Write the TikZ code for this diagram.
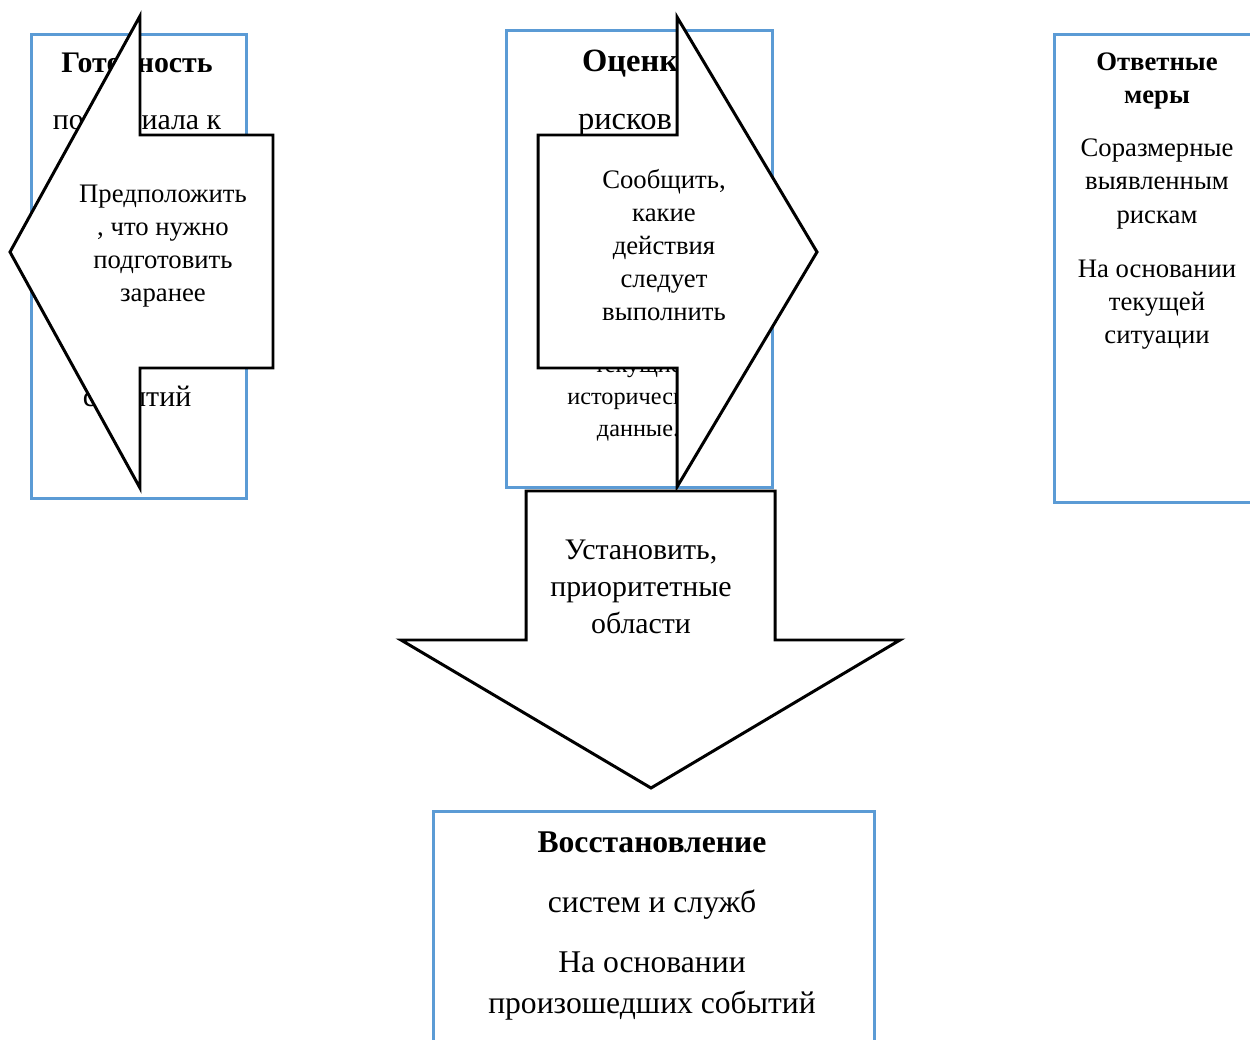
\documentclass[tikz,border=0pt]{standalone}
\usepackage{fontspec}
\setmainfont{Liberation Serif}
\definecolor{boxblue}{RGB}{91,155,213}
\tikzset{
  box/.style={draw=boxblue, line width=1.5pt, anchor=north west, inner sep=0pt},
  bigarrow/.style={draw=black, fill=white, line width=1.7pt, line join=miter},
  txt/.style={align=center, inner sep=0pt},
  bhead/.style={txt, font=\fontsize{17}{20}\bfseries\selectfont, anchor=base},
  btxt/.style={txt, font=\fontsize{17}{20}\selectfont, anchor=base},
  atxt/.style={txt, font=\fontsize{15.2}{18.8}\selectfont},
}
\begin{document}
\begin{tikzpicture}[x=0.02cm,y=-0.02cm]
    \clip (0,0) rectangle (1250,1040);
    % boxes
    \node[box, minimum width=4.30cm, minimum height=9.28cm] (prep) at (30,33) {};
    \node[box, minimum width=5.32cm, minimum height=9.14cm] (risk) at (505,29) {};
    \node[box, minimum width=4.80cm, minimum height=9.36cm] (resp) at (1053,33) {};
    \node[box, minimum width=8.82cm, minimum height=5.40cm] (recov) at (432,810) {};
    % box texts
    \node[bhead] (prepT) at (137,73) {Готовность};
    \node[btxt] (prepA) at (137,130) {потенциала к};
    \node[btxt] (prepB) at (137,406) {событий};
    \node[bhead, font=\fontsize{18.5}{21}\bfseries\selectfont] (riskT) at (638,72) {Оценка};
    \node[btxt, font=\fontsize{18.5}{21}\selectfont] (riskA) at (625,130) {рисков};
    \node[txt, font=\fontsize{13.8}{18.2}\selectfont] (riskB) at (638,401) {текущие\\исторические\\данные.};
    \node[txt, font=\fontsize{15.2}{19.2}\bfseries\selectfont] (respT) at (1157,81) {Ответные\\меры};
    \node[txt, font=\fontsize{15.2}{18.8}\selectfont] (respA) at (1157,184) {Соразмерные\\выявленным\\рискам};
    \node[txt, font=\fontsize{15.2}{18.8}\selectfont] (respB) at (1157,305) {На основании\\текущей\\ситуации};
    \node[bhead, font=\fontsize{18}{22.8}\bfseries\selectfont] (recovT) at (652,852) {Восстановление};
    \node[btxt, font=\fontsize{18}{22.8}\selectfont] (recovA) at (652,912) {систем и служб};
    \node[txt, font=\fontsize{18}{22.8}\selectfont] (recovB) at (652,986) {На основании\\произошедших событий};
    % block arrows
    \draw[bigarrow] (10,252) -- (140,16) -- (140,135) -- (273,135) -- (273,368) -- (140,368) -- (140,488) -- cycle;
    \draw[bigarrow] (677,17) -- (817,252) -- (677,487) -- (677,368) -- (538,368) -- (538,135) -- (677,135) -- cycle;
    \draw[bigarrow] (526,491) -- (775,491) -- (775,640) -- (900,640) -- (651,788) -- (401,640) -- (526,640) -- cycle;
    \node[atxt] (guess) at (163,246) {Предположить\\, что нужно\\подготовить\\заранее};
    \node[atxt] (tell) at (664,245) {Сообщить,\\какие\\действия\\следует\\выполнить};
    \node[txt, font=\fontsize{17}{21}\selectfont] (prio) at (641,587) {Установить,\\приоритетные\\области};
\end{tikzpicture}
\end{document}
